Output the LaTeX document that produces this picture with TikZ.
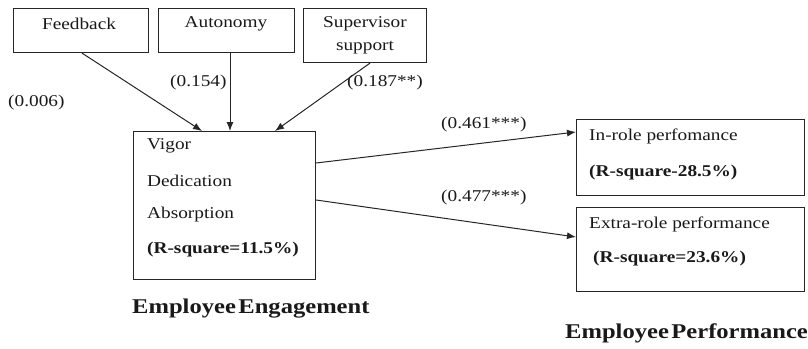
\documentclass[tikz,border=0pt]{standalone}
\usepackage{fontspec}
\setmainfont[FakeStretch=1.17]{Liberation Serif}
\usetikzlibrary{arrows.meta,calc}
\begin{document}
\begin{tikzpicture}[x=1pt,y=-1pt,
  box/.style={draw=black!85,line width=1.1pt,anchor=north west,inner sep=0pt},
  txt/.style={inner sep=0pt,font=\fontsize{16.5}{19}\selectfont,text=black!90},
  lbl/.style={inner sep=0pt,font=\fontsize{16.5}{19}\selectfont,text=black!90},
  big/.style={inner sep=0pt,font=\fontsize{21}{24}\selectfont\bfseries,text=black!90},
  arr/.style={draw=black!85,line width=1pt,-{Latex[length=9pt,width=7pt]}}]
\useasboundingbox (0,0) rectangle (808,348);
% boxes
\node[box,minimum width=135pt,minimum height=44pt] (fb) at (13,8) {};
\node[box,minimum width=136pt,minimum height=44pt] (au) at (158,8) {};
\node[box,minimum width=123pt,minimum height=54pt] (sv) at (303,8) {};
\node[box,minimum width=182pt,minimum height=148pt] (ee) at (133,131) {};
\node[box,minimum width=228pt,minimum height=76pt] (ir) at (576,119) {};
\node[box,minimum width=228pt,minimum height=84pt] (er) at (576,207) {};
% box texts
\node[txt] (tfb) at (79,24) {Feedback};
\node[txt] (tau) at (226,24) {Autonomy};
\node[txt,align=center,font=\fontsize{16.5}{23}\selectfont] (tsv) at (365,35) {Supervisor\\support};
\node[txt,anchor=west] (t1) at (147,146) {Vigor};
\node[txt,anchor=west] (t2) at (147,181) {Dedication};
\node[txt,anchor=west] (t3) at (147,215) {Absorption};
\node[txt,anchor=west,font=\fontsize{16.5}{19}\selectfont\bfseries] (t4) at (147,250) {(R-square=11.5\%)};
\node[txt,anchor=west] (t5) at (589,136) {In-role perfomance};
\node[txt,anchor=west,font=\fontsize{16.5}{19}\selectfont\bfseries] (t6) at (589,173) {(R-square-28.5\%)};
\node[txt,anchor=west] (t7) at (589,224) {Extra-role performance};
\node[txt,anchor=west,font=\fontsize{16.5}{19}\selectfont\bfseries] (t8) at (593,259) {(R-square=23.6\%)};
% coefficient labels
\node[lbl,anchor=west] (l1) at (8,103) {(0.006)};
\node[lbl,anchor=west] (l2) at (170,83) {(0.154)};
\node[lbl,anchor=west] (l3) at (347,83) {(0.187**)};
\node[lbl,anchor=west] (l4) at (441,125) {(0.461***)};
\node[lbl,anchor=west] (l5) at (441,198) {(0.477***)};
% group labels
\node[big,anchor=west] (g1) at (132,309) {Employee\hspace{0.12em}Engagement};
\node[big,anchor=west] (g2) at (565,333) {Employee\hspace{0.12em}Performance};
% arrows
\coordinate (e1) at ($(ee.north west)+(69,0)$);
\coordinate (e2) at ($(ee.north west)+(97,0)$);
\coordinate (e3) at ($(ee.north west)+(142,0)$);
\coordinate (s1) at ($(fb.south west)+(69,0)$);
\coordinate (s2) at ($(au.south west)+(72,0)$);
\coordinate (s3) at ($(sv.south west)+(67,0)$);
\draw[arr] (s1) -- (e1);
\draw[arr] (s2) -- (e2);
\draw[arr] (s3) -- (e3);
\coordinate (o1) at ($(ee.north east)+(0,32)$);
\coordinate (o2) at ($(ee.north east)+(0,69)$);
\coordinate (i1) at ($(ir.north west)+(0,13)$);
\coordinate (i2) at ($(er.north west)+(0,30)$);
\draw[arr] (o1) -- (i1);
\draw[arr] (o2) -- (i2);
\end{tikzpicture}
\end{document}
